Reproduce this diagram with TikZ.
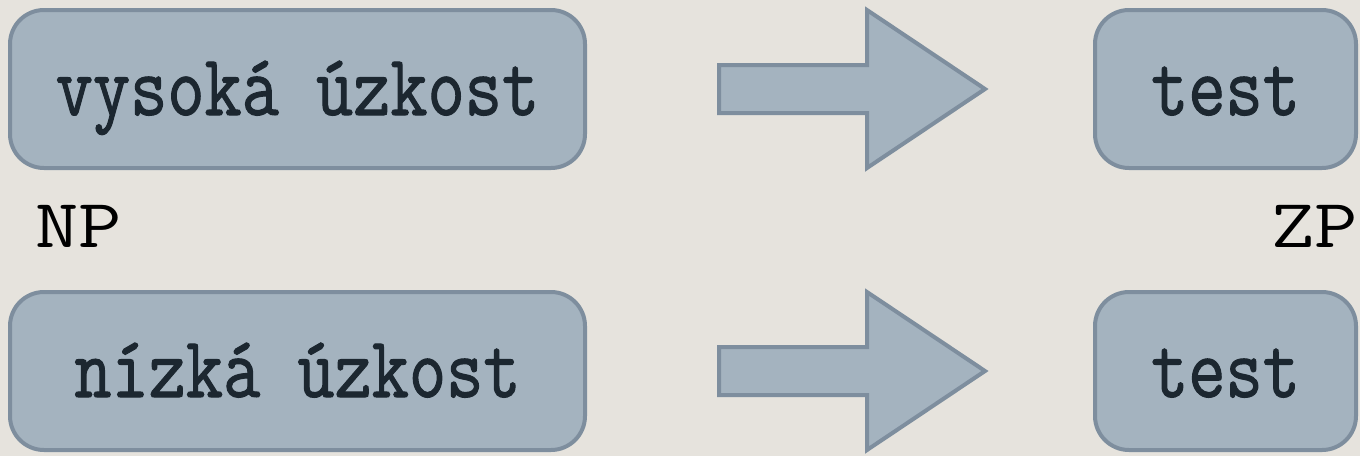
\documentclass[tikz,border=0pt]{standalone}
\usepackage{fontspec}
\newfontfamily\boxfont[FakeStretch=0.83,FakeBold=1.2]{Latin Modern Mono}
\newfontfamily\labfont[FakeStretch=1.22]{Latin Modern Mono}
\definecolor{bgc}{HTML}{E6E3DD}
\definecolor{fillc}{HTML}{A4B3BF}
\definecolor{edgec}{HTML}{7E8E9E}
\definecolor{txtc}{HTML}{1C2730}
\tikzset{
  box/.style={draw=edgec, fill=fillc, line width=4pt, rounded corners=34pt,
    inner sep=0pt, text height=60pt, text depth=8pt, text=txtc,
    font=\boxfont\fontsize{87}{90}\selectfont},
  lab/.style={inner sep=0pt, text=black, font=\labfont\fontsize{69}{72}\selectfont},
  blockarrow/.style={draw=edgec, fill=fillc, line width=4pt, line join=miter}
}
\begin{document}
\begin{tikzpicture}[x=1pt,y=-1pt]
\fill[bgc] (0,0) rectangle (1360,456);
\useasboundingbox (0,0) rectangle (1360,456);
\node[box, minimum width=575pt, minimum height=158pt] (hi) at (297.5,89) {vysoká úzkost};
\node[box, minimum width=575pt, minimum height=158pt] (lo) at (297.5,371) {nízká úzkost};
\node[box, minimum width=261pt, minimum height=158pt] (t1) at (1225.5,89) {test};
\node[box, minimum width=261pt, minimum height=158pt] (t2) at (1225.5,371) {test};
\node[lab, anchor=base west] (np) at (35,247) {NP};
\node[lab, anchor=base east] (zp) at (1358,247) {ZP};
\foreach \dy in {0,282}{
  \draw[blockarrow] (719,65+\dy) -- (867,65+\dy) -- (867,10+\dy) -- (985,89+\dy)
    -- (867,168+\dy) -- (867,113+\dy) -- (719,113+\dy) -- cycle;
}
\end{tikzpicture}
\end{document}
